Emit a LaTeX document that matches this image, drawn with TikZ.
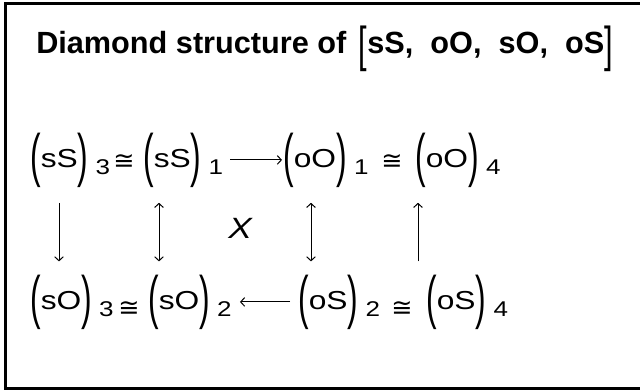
\documentclass[tikz,border=0pt]{standalone}
\usepackage{fontspec}
\setmainfont{Liberation Sans}
\newfontfamily\symfont{DejaVu Sans}
\usepackage{graphicx}
\usetikzlibrary{arrows.meta}
\newcommand{\tallp}[1]{\raisebox{-5.3pt}{\scalebox{1}[2.25]{#1}}}
\newcommand{\tallb}[1]{{\mdseries\raisebox{-6pt}{\scalebox{1}[1.6]{#1}}}}
\newcommand{\grp}[2]{\scalebox{1.22}[1]{\tallp{(}#1\tallp{)}\hspace{4.5pt}\raisebox{-5.25pt}{\fontsize{16}{18}\selectfont #2}}}

\begin{document}
\begin{tikzpicture}[
  x=0.75pt, y=-0.75pt,
  ttl/.style={anchor=base west, inner sep=0pt, font=\bfseries\fontsize{23}{26}\selectfont},
  term/.style={anchor=base west, inner sep=0pt, font=\fontsize{19.5}{22}\selectfont},
  iso/.style={anchor=base west, inner sep=0pt, font=\symfont\fontsize{19}{22}\selectfont},
  xlab/.style={inner sep=0pt, font=\itshape\fontsize{22}{24}\selectfont},
  onearr/.style={line width=0.75pt, -{Straight Barb[length=3pt,width=6.5pt]}},
  twoarr/.style={line width=0.75pt, {Straight Barb[length=3pt,width=6.5pt]}-{Straight Barb[length=3pt,width=6.5pt]}},
]
\useasboundingbox (0,0) rectangle (640,392);
\draw[line width=2.25pt] (640,4) -- (5,4) -- (5,389) -- (640,389);

\node[ttl] (ttl) at (36,54) {Diamond structure of\hspace{3pt} \tallb{[}sS,~~oO,~~sO,~~oS\tallb{]}};

\node[term] (t11) at (30,168) {\grp{sS}{3}};
\node[iso] (c11) at (113,170) {≅};
\node[term] (t12) at (143,168) {\grp{sS}{1}};
\node[term] (t13) at (283,168) {\grp{oO}{1}};
\node[iso] (c12) at (381,170) {≅};
\node[term] (t14) at (415,168) {\grp{oO}{4}};

\node[term] (t21) at (30,310) {\grp{sO}{3}};
\node[iso] (c21) at (118,317) {≅};
\node[term] (t22) at (148,310) {\grp{sO}{2}};
\node[term] (t23) at (298,310) {\grp{oS}{2}};
\node[iso] (c22) at (391,317) {≅};
\node[term] (t24) at (426,310) {\grp{oS}{4}};

\node[xlab] (x) at (240,228) {\scalebox{1.2}[1]{X}};

\draw[onearr, shorten <=5pt, shorten >=0.75pt] (t12.east) -- (t13.west);
\draw[onearr, shorten <=6pt, shorten >=6pt] (t23.west) -- (t22.east);

\draw[onearr, shorten <=11.5pt, shorten >=9.75pt] ([xshift=21.75pt]t11.south west) -- ([xshift=21.75pt]t11.south west |- t21.north);
\draw[twoarr, shorten <=11.5pt, shorten >=9.75pt] ([xshift=12pt]t12.south west) -- ([xshift=12pt]t12.south west |- t22.north);
\draw[twoarr, shorten <=11.5pt, shorten >=9.75pt] ([xshift=21pt]t13.south west) -- ([xshift=21pt]t13.south west |- t23.north);
\draw[onearr, shorten <=9.75pt, shorten >=11.5pt] ([xshift=2.25pt]t14.south west |- t24.north) -- ([xshift=2.25pt]t14.south west);
\end{tikzpicture}
\end{document}
